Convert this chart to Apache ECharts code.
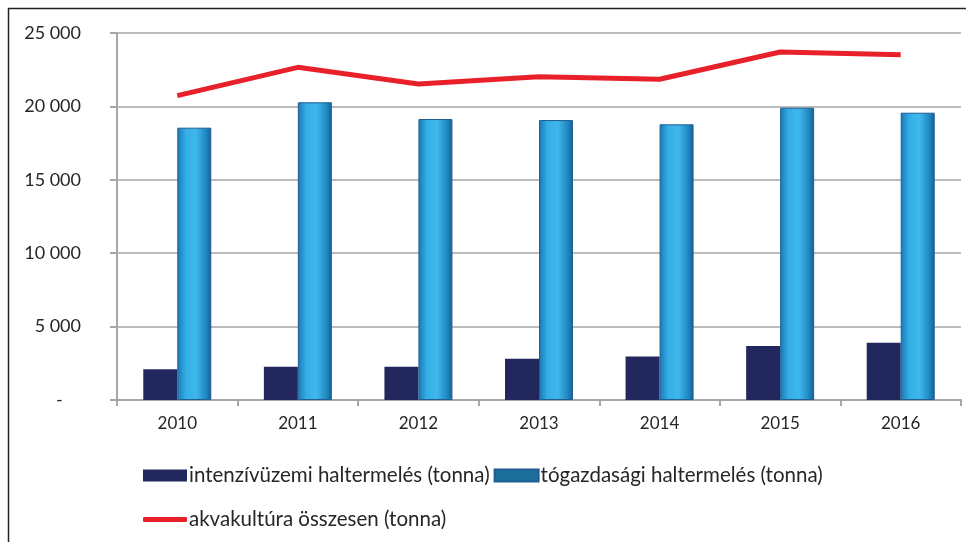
<!DOCTYPE html>
<html><head><meta charset="utf-8">
<script src="https://cdn.jsdelivr.net/npm/echarts@6/dist/echarts.min.js"></script>
<style>html,body{margin:0;padding:0;background:#fff}#c{width:966px;height:542px}</style>
</head><body><div id="c"></div>
<script>
const categories = ['2010','2011','2012','2013','2014','2015','2016'];
const intenziv = [2090, 2270, 2270, 2810, 2970, 3680, 3900];
const togazdasagi = [18550, 20280, 19140, 19070, 18780, 19910, 19570];
const osszesen = [20730, 22660, 21530, 22020, 21850, 23710, 23520];
const names = ['intenzívüzemi haltermelés (tonna)', 'tógazdasági haltermelés (tonna)', 'akvakultúra összesen (tonna)'];
const yTicks = [0, 5000, 10000, 15000, 20000, 25000];

const chart = echarts.init(document.getElementById('c'));
const font = 'Lato, "Open Sans", sans-serif';
chart.setOption({
  animation: false,
  backgroundColor: '#fff',
  graphic: [{type:'rect', left:6, top:6, shape:{width:1000, height:1000}, style:{fill:'none', stroke:'#222', lineWidth:1.5}, z:-1}],
  grid: {left:117, right:5, top:33, bottom:142},
  legend: [
    {data:[{name:names[0], itemStyle:{color:'#22285e'}}, {name:names[1], itemStyle:{color:'#1d6f9b'}}],
     left:138, top:460, itemWidth:44, itemHeight:12, itemGap:4, icon:'rect',
     textStyle:{fontFamily:font, fontSize:20.5, color:'#262626', padding:[0,0,0,-3]}},
    {data:[{name:names[2], icon:'roundRect', itemStyle:{color:'#e8202a'}}],
     left:138, top:504, itemWidth:44, itemHeight:5,
     textStyle:{fontFamily:font, fontSize:20.5, color:'#262626', padding:[0,0,0,-3]}}
  ],
  xAxis: {type:'category', data:categories,
    axisLine:{lineStyle:{color:'#a6a6a6', width:2}},
    axisTick:{show:true, length:6, lineStyle:{color:'#a6a6a6', width:2}},
    axisLabel:{fontFamily:font, fontSize:17, color:'#262626', margin:15}},
  yAxis: {type:'value', min:0, max:25000, interval:5000,
    axisLine:{show:true, lineStyle:{color:'#a6a6a6', width:2}},
    axisTick:{show:true, length:7, lineStyle:{color:'#a6a6a6', width:2}},
    splitLine:{lineStyle:{color:'#a6a6a6', width:1.5}},
    axisLabel:{fontFamily:font, fontSize:18, color:'#262626', margin:36, align:'right',
      formatter: v => v === 0 ? '-    ' : String(v).replace(/\B(?=(\d{3})+(?!\d))/g, ' ')}},
  series: [
    {name:names[0], type:'bar', data:intenziv, barWidth:34, barGap:'0%',
     itemStyle:{color:'#22285e'}},
    {name:names[1], type:'bar', data:togazdasagi, barWidth:34,
     itemStyle:{borderColor:'#1f5d92', borderWidth:1,
       color:{type:'linear', x:0, y:0, x2:1, y2:0, colorStops:[
         {offset:0, color:'#1a78b4'}, {offset:0.25, color:'#34aee6'}, {offset:0.55, color:'#3fb8ec'},
         {offset:0.85, color:'#1f86c0'}, {offset:1, color:'#165f93'}]}}},
    {name:names[2], type:'line', data:osszesen, symbol:'none',
     lineStyle:{color:'#e8202a', width:5}, itemStyle:{color:'#e8202a'}}
  ]
});
</script></body></html>
